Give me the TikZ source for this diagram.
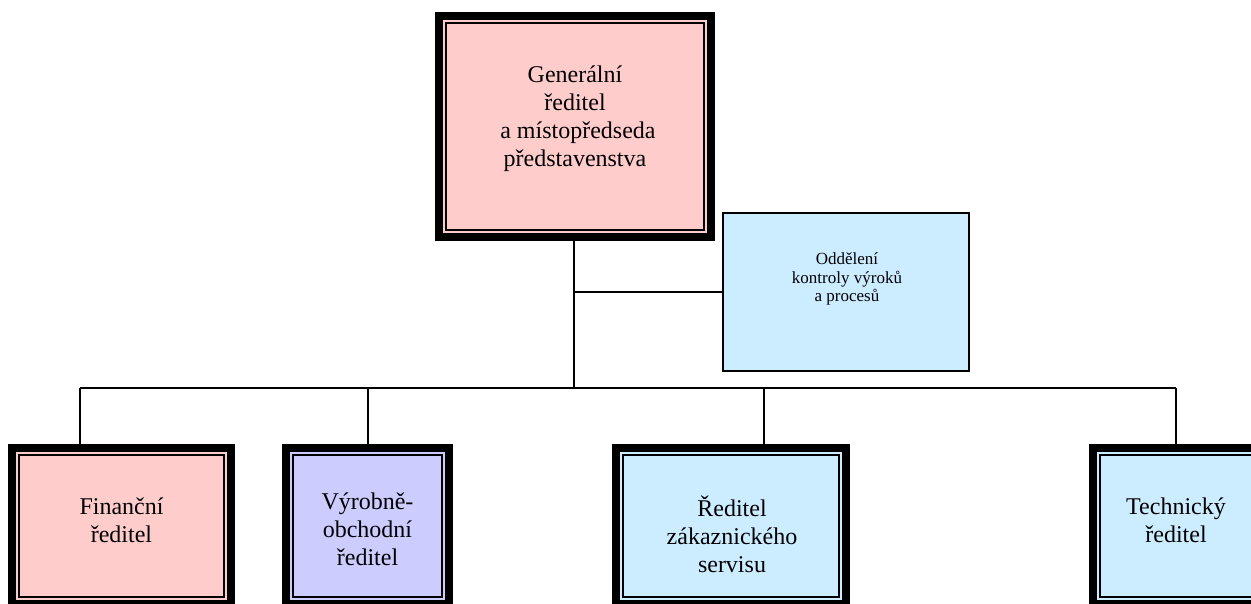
\documentclass[tikz,border=0pt]{standalone}
\usepackage{fontspec}
\setmainfont{Liberation Serif}
\definecolor{pinkfill}{HTML}{FFCCCC}
\definecolor{violetfill}{HTML}{CCCCFF}
\definecolor{bluefill}{HTML}{CCECFF}
\tikzset{
  % unit with a thick outer frame and a thin inner frame
  unitbox/.style={rectangle, draw=black, line width=8pt, inner sep=0pt,
    path picture={\draw[line width=1.6pt]
      ([shift={(7pt,7pt)}]path picture bounding box.south west) rectangle
      ([shift={(-7pt,-7pt)}]path picture bounding box.north east);}},
  plainbox/.style={rectangle, draw=black, line width=1.5pt, fill=bluefill, inner sep=0pt},
  bigtext/.style={align=center, inner sep=0pt, font=\fontsize{24}{28}\selectfont},
  smalltext/.style={align=center, inner sep=0pt, font=\fontsize{17}{18.5}\selectfont},
  link/.style={draw=black, line width=1.5pt},
}
\begin{document}
\begin{tikzpicture}[x=1pt, y=-1pt]
  \useasboundingbox (0,0) rectangle (1251,604);
  \fill[white] (0,0) rectangle (1251,604);
  \clip (0,0) rectangle (1251,604);

  % boxes
  \node[unitbox, fill=pinkfill, minimum width=272pt, minimum height=221pt] (gr) at (575,126.5) {};
  \node[plainbox, minimum width=246pt, minimum height=158pt] (odd) at (846,292) {};
  \node[unitbox, fill=pinkfill, minimum width=219pt, minimum height=156pt] (fin) at (121.5,526) {};
  \node[unitbox, fill=violetfill, minimum width=163pt, minimum height=156pt] (vyr) at (367.5,526) {};
  \node[unitbox, fill=bluefill, minimum width=230pt, minimum height=156pt] (zak) at (731,526) {};
  \node[unitbox, fill=bluefill, minimum width=166pt, minimum height=156pt] (tech) at (1176,526) {};

  % texts
  \node[bigtext] (grt) at (575,119) {Generální\\ředitel\\~a místopředseda\\představenstva};
  \node[smalltext] (oddt) at (847,279) {Oddělení\\kontroly výroků\\a procesů};
  \node[bigtext] (fint) at (121.5,520) {Finanční\\ředitel};
  \node[bigtext] (vyrt) at (367.5,529) {Výrobně-\\obchodní\\ředitel};
  \node[bigtext] (zakt) at (732,534) {Ředitel\\zákaznického\\servisu};
  \node[bigtext] (techt) at (1176,520) {Technický\\ředitel};

  % connectors
  \coordinate (hub) at (574,388);
  \coordinate (busL) at (80,388);
  \coordinate (busV) at (368,388);
  \coordinate (busZ) at (764,388);
  \coordinate (busR) at (1176,388);
  \coordinate (side) at (574,292);
  \draw[link] (gr.south -| hub) -- (hub);
  \draw[link] (side) -- (odd.west);
  \draw[link] (busL) -- (busR);
  \draw[link] (busL) -- (busL |- fin.north);
  \draw[link] (busV) -- (busV |- vyr.north);
  \draw[link] (busZ) -- (busZ |- zak.north);
  \draw[link] (busR) -- (busR |- tech.north);
\end{tikzpicture}
\end{document}
